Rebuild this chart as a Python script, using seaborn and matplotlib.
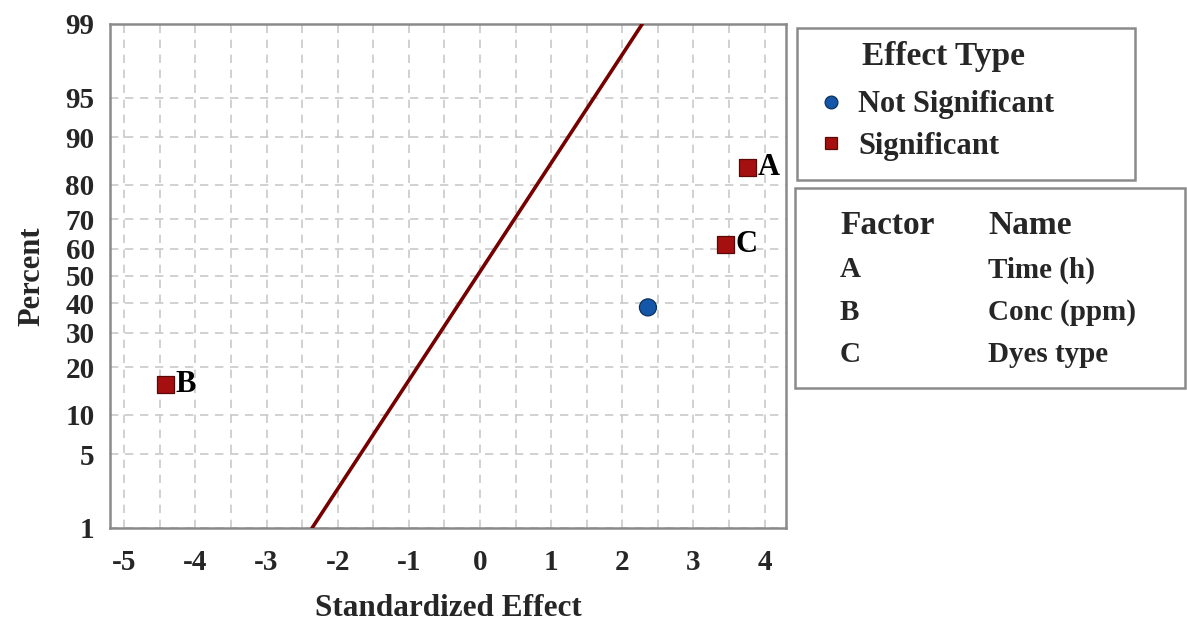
import math
from statistics import NormalDist
import numpy as np
import pandas as pd
import matplotlib
matplotlib.use("Agg")
import matplotlib.pyplot as plt
from matplotlib.patches import Rectangle
from matplotlib.collections import PathCollection
import seaborn as sns

# ---------------- data ----------------
effect_values = [3.76, -4.42, 3.45, 2.36]
effect_percent = [84.1, 15.9, 61.4, 38.6]
effect_types = ["Significant", "Significant", "Significant", "Not Significant"]
effect_labels = ["A", "B", "C", ""]

line_effect = [-2.36, 2.28]
line_percent = [1, 99]

y_ticks = [1, 5, 10, 20, 30, 40, 50, 60, 70, 80, 90, 95, 99]
x_ticks = [-5, -4, -3, -2, -1, 0, 1, 2, 3, 4]

factor_codes = ["A", "B", "C"]
factor_names = ["Time (h)", "Conc (ppm)", "Dyes type"]

# ---------------- style ----------------
sns.set_theme(style="white")
plt.rcParams["font.family"] = ["Liberation Serif", "DejaVu Serif"]
plt.rcParams["font.weight"] = "bold"

RED = "#A50F0F"
BLUE = "#1457A8"
GRID = "#C9C9C9"
SPINE = "#8A8A8A"

_nd = NormalDist()
_inv = np.vectorize(lambda p: _nd.inv_cdf(p), otypes=[float])
_cdf = np.vectorize(lambda z: _nd.cdf(z), otypes=[float])


def fwd(p):
    p = np.clip(np.asarray(p, dtype=float), 1e-7, 100 - 1e-7)
    return _inv(p / 100.0)


def inv(z):
    return _cdf(np.asarray(z, dtype=float)) * 100.0


df = pd.DataFrame({"Effect": effect_values, "Percent": effect_percent,
                   "Effect Type": effect_types, "Label": effect_labels})

fig = plt.figure(figsize=(11.87, 6.21), dpi=100)
ax = fig.add_axes([110 / 1187, 1 - 528 / 621, (786 - 110) / 1187, (528 - 24) / 621])

sns.lineplot(x=line_effect, y=line_percent, ax=ax, color="#760000", lw=2.6,
             sort=False, estimator=None, zorder=3)
sns.scatterplot(data=df, x="Effect", y="Percent", hue="Effect Type", style="Effect Type",
                hue_order=["Not Significant", "Significant"],
                style_order=["Not Significant", "Significant"],
                palette={"Not Significant": BLUE, "Significant": RED},
                markers={"Not Significant": "o", "Significant": "s"},
                s=150, linewidth=0.9, ax=ax, zorder=4, legend=True)

# darker edge of the same hue for each marker
for coll in ax.collections:
    if isinstance(coll, PathCollection):
        fc = coll.get_facecolors()
        if len(fc):
            ec = fc.copy()
            ec[:, :3] *= 0.55
            coll.set_edgecolors(ec)

ax.set_yscale("function", functions=(fwd, inv))
ax.set_yticks(y_ticks)
ax.set_yticklabels([str(v) for v in y_ticks])
ax.set_xticks(x_ticks)
ax.set_xticklabels([str(v) for v in x_ticks])
ax.set_xticks(np.arange(-5, 4.01, 0.5), minor=True)
ax.yaxis.set_minor_locator(matplotlib.ticker.NullLocator())
ax.set_ylim(1, 99)
ax.set_xlim(-5.2, 4.3)

ax.grid(True, which="both", axis="x", color=GRID, linestyle=(0, (5, 4)), lw=1.2)
ax.grid(True, which="major", axis="y", color=GRID, linestyle=(0, (5, 4)), lw=1.2)
ax.set_axisbelow(True)

for sp in ax.spines.values():
    sp.set_color(SPINE)
    sp.set_linewidth(1.8)

ax.tick_params(axis="both", which="major", direction="out", length=6, width=1.5,
               color=SPINE, labelsize=21, pad=5)
ax.tick_params(axis="x", which="minor", length=0)
ax.tick_params(axis="x", pad=9)
for lab in ax.get_xticklabels() + ax.get_yticklabels():
    lab.set_fontweight("bold")

ax.set_xlabel("Standardized Effect", fontsize=22.5, fontweight="bold", labelpad=13)
ax.set_ylabel("Percent", fontsize=22, fontweight="bold", labelpad=14)

for xv, yv, lab in zip(effect_values, effect_percent, effect_labels):
    if lab:
        ax.annotate(lab, (xv, yv), xytext=(7, 0), textcoords="offset points",
                    ha="left", va="center", fontsize=22, fontweight="bold", color="black")

# legend (Effect Type)
handles, labels = ax.get_legend_handles_labels()
for h in handles:
    try:
        fcol = np.array(matplotlib.colors.to_rgba(h.get_markerfacecolor()))
        fcol[:3] *= 0.55
        h.set_markeredgecolor(fcol)
    except Exception:
        pass
ax.legend_.remove()
fig.legend(handles, labels, loc="upper left", bbox_to_anchor=(800 / 1187, 1 - 78 / 621),
           frameon=False, prop={"size": 22, "weight": "bold"}, handletextpad=0.3,
           handlelength=1.2, labelspacing=0.42, markerscale=0.75, borderaxespad=0)
fig.text(862 / 1187, 1 - 57 / 621, "Effect Type", fontsize=24, fontweight="bold",
         ha="left", va="center")
fig.add_artist(Rectangle((797 / 1187, 1 - 180 / 621), (1135 - 797) / 1187, (180 - 28) / 621,
                         transform=fig.transFigure, fill=False, edgecolor=SPINE, lw=1.8))

# factor table
fig.add_artist(Rectangle((795 / 1187, 1 - 388 / 621), (1185 - 795) / 1187, (388 - 188) / 621,
                         transform=fig.transFigure, fill=False, edgecolor=SPINE, lw=1.8))
fig.text(840 / 1187, 1 - 225 / 621, "Factor", fontsize=24, fontweight="bold", va="center")
fig.text(988 / 1187, 1 - 225 / 621, "Name", fontsize=24, fontweight="bold", va="center")
row_y = [270, 313, 355]
for code, name, ry in zip(factor_codes, factor_names, row_y):
    fig.text(840 / 1187, 1 - ry / 621, code, fontsize=21, fontweight="bold", va="center")
    fig.text(988 / 1187, 1 - ry / 621, name, fontsize=21, fontweight="bold", va="center")

fig.savefig("out.png", dpi=100)
